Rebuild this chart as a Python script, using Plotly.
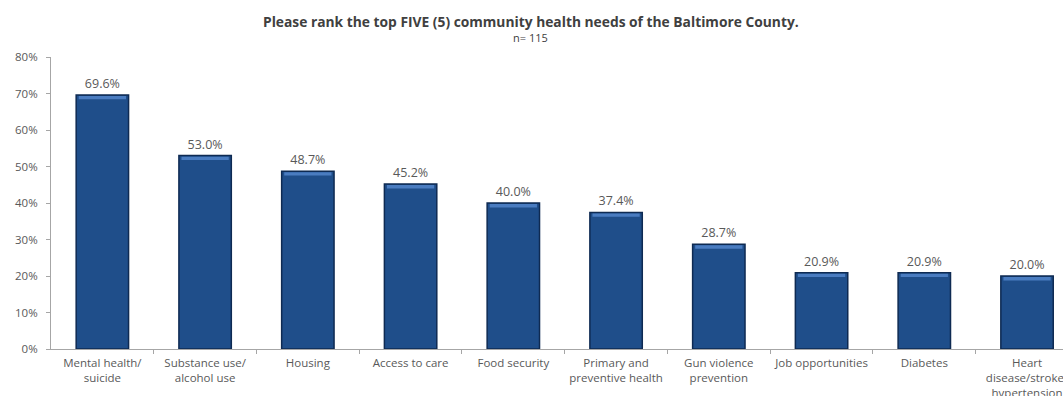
import plotly.graph_objects as go

categories = [
    "Mental health/<br>suicide",
    "Substance use/<br>alcohol use",
    "Housing",
    "Access to care",
    "Food security",
    "Primary and<br>preventive health",
    "Gun violence<br>prevention",
    "Job opportunities",
    "Diabetes",
    "Heart<br>disease/stroke/<br>hypertension",
]
values = [69.6, 53.0, 48.7, 45.2, 40.0, 37.4, 28.7, 20.9, 20.9, 20.0]
y_ticks = [0, 10, 20, 30, 40, 50, 60, 70, 80]

title_text = "Please rank the top FIVE (5) community health needs of the Baltimore County."
subtitle_text = "n= 115"

FONT = "Open Sans"
GRAY = "#595959"
AXIS = "#A6A6A6"
BEVEL = 0.9  # thickness of the lighter cap on each bar, in axis units

positions = list(range(len(categories)))

fig = go.Figure()

# main bars with value labels
fig.add_trace(go.Bar(
    x=positions,
    y=values,
    text=[f"{v:.1f}%" for v in values],
    textposition="outside",
    cliponaxis=False,
    textfont=dict(family=FONT, size=12.5, color=GRAY),
    marker=dict(color="#1F4E8A", line=dict(color="#0E2A52", width=1.5)),
    width=0.51,
    hoverinfo="x+y",
))

# lighter cap along the top of each bar
fig.add_trace(go.Bar(
    x=positions,
    y=[BEVEL] * len(values),
    base=[v - BEVEL - 0.3 for v in values],
    marker=dict(color="#4A7CC0", line=dict(width=0)),
    width=0.46,
    hoverinfo="skip",
))

fig.update_layout(
    width=1063,
    height=396,
    margin=dict(l=51, r=0, t=57, b=47),
    barmode="overlay",
    paper_bgcolor="white",
    plot_bgcolor="white",
    showlegend=False,
    font=dict(family=FONT, color=GRAY),
    annotations=[
        dict(text=f"<b>{title_text}</b>", xref="paper", yref="paper",
             x=0.474, y=1.12, xanchor="center", yanchor="middle", showarrow=False,
             font=dict(family=FONT, size=13.8, color="#404040")),
        dict(text=subtitle_text, xref="paper", yref="paper",
             x=0.474, y=1.068, xanchor="center", yanchor="middle", showarrow=False,
             font=dict(family=FONT, size=11, color="#404040")),
    ],
)

fig.update_xaxes(
    tickmode="array",
    tickvals=positions,
    ticktext=categories,
    range=[-0.5, 9.35],
    automargin=False,
    showline=True, linecolor=AXIS, linewidth=1,
    ticks="", showgrid=False,
    ticklabeloverflow="allow",
    ticklabelstandoff=3,
    tickfont=dict(family=FONT, size=11.5, color=GRAY),
    tickangle=0,
    minor=dict(
        tickmode="array",
        tickvals=[p + 0.5 for p in positions],
        ticks="outside", ticklen=4, tickcolor=AXIS, showgrid=False,
    ),
)

fig.update_yaxes(
    range=[0, 80],
    tickmode="array",
    tickvals=y_ticks,
    ticktext=[f"{t}%" for t in y_ticks],
    automargin=False,
    showline=True, linecolor=AXIS, linewidth=1,
    ticks="outside", ticklen=4, tickcolor=AXIS,
    ticklabelstandoff=6,
    showgrid=False, zeroline=False,
    tickfont=dict(family=FONT, size=11.5, color=GRAY),
)

fig.write_html("out.html")
